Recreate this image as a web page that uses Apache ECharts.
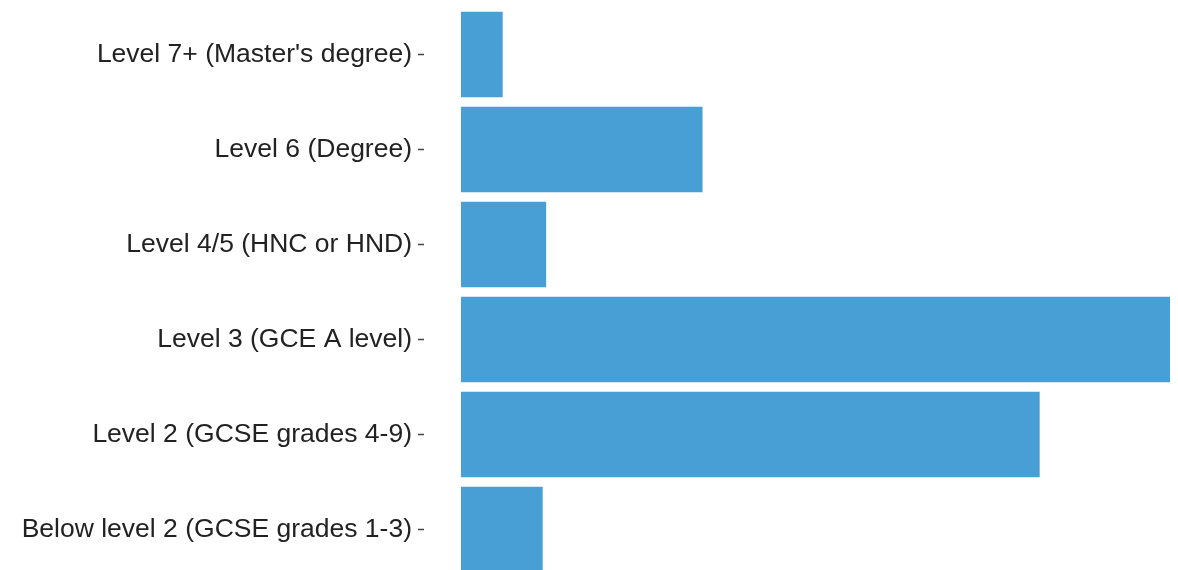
<!DOCTYPE html>
<html>
<head>
<meta charset="utf-8">
<script src="https://cdn.jsdelivr.net/npm/echarts@6/dist/echarts.min.js"></script>
<style>
html, body { margin: 0; padding: 0; background: #fff; }
#chart { width: 1178px; height: 570px; }
</style>
</head>
<body>
<div id="chart"></div>
<script>
var categories = [
    'Level 7+ (Master\'s degree)',
    'Level 6 (Degree)',
    'Level 4/5 (HNC or HND)',
    'Level 3 (GCE A level)',
    'Level 2 (GCSE grades 4-9)',
    'Below level 2 (GCSE grades 1-3)'
]
var values = [2.4, 13.9, 4.9, 40.8, 33.3, 4.7]

var myChart = echarts.init(document.getElementById('chart'))
myChart.setOption({
    animation: false,
    grid: {
        left: 461,
        right: 8,
        top: 7,
        bottom: -7,
        outerBoundsMode: 'none',
    },
    xAxis: {
        type: 'value',
        show: false,
        min: 0,
        max: 'dataMax',
    },
    yAxis: {
        type: 'category',
        data: categories,
        inverse: true,
        offset: 37,
        axisLine: { show: false },
        axisTick: { show: false },
        axisLabel: {
            margin: 0,
            // the short tick after each label, drawn as a rich text box
            formatter: function (v) { return '{a|' + v + '}{t|}' },
            rich: {
                a: {
                    fontFamily: 'Liberation Sans, Arial, sans-serif',
                    fontSize: 26.5,
                    color: '#222',
                    padding: [0, 6, 0, 0],
                },
                t: {
                    width: 6,
                    height: 1.5,
                    backgroundColor: '#444',
                    verticalAlign: 'middle',
                }
            }
        },
        splitLine: { show: false },
    },
    series: [{
        type: 'bar',
        data: values,
        barCategoryGap: '10%',
        itemStyle: { color: '#479fd5' },
    }]
})
</script>
</body>
</html>
